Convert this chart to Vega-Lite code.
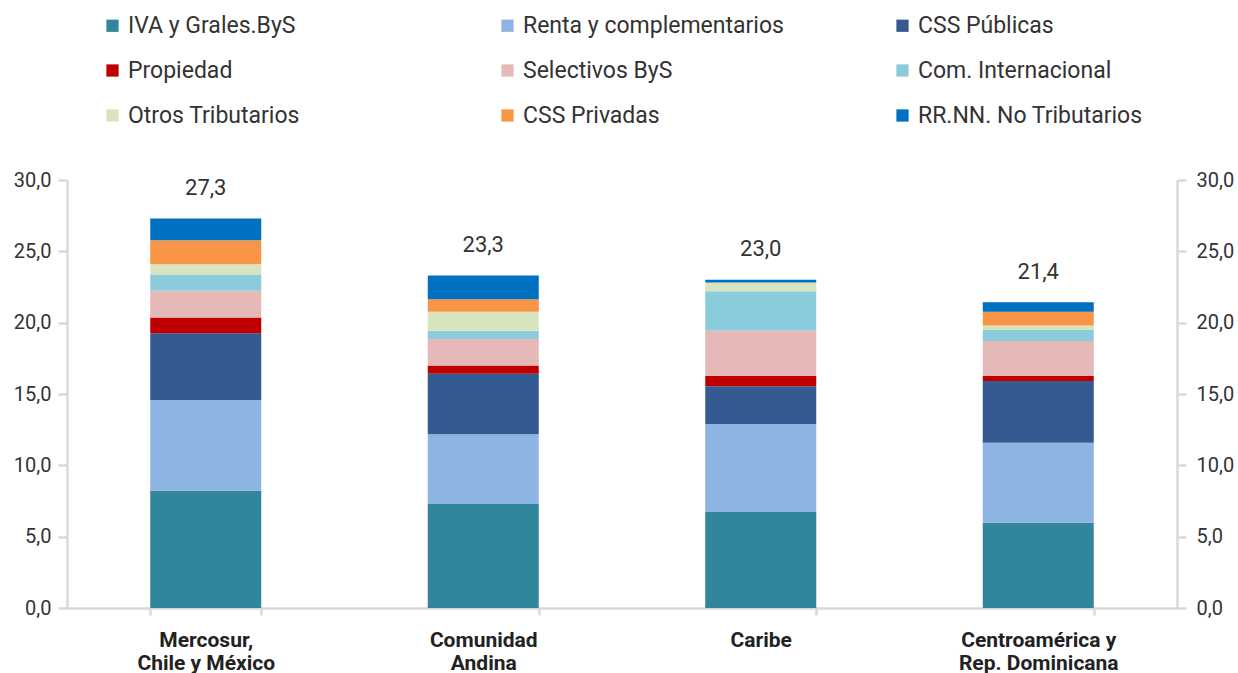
{
  "$schema": "https://vega.github.io/schema/vega-lite/v6.json",
  "width": 1110,
  "height": 428,
  "autosize": {"type": "none"},
  "padding": {"left": 67, "top": 180, "right": 61, "bottom": 65},
  "background": "white",
  "config": {
    "font": "Roboto",
    "view": {"stroke": null},
    "axis": {"grid": false, "domainColor": "#d9d9d9", "domainWidth": 2.5, "tickColor": "#d9d9d9", "tickWidth": 2.5, "labelColor": "#333333", "title": null}
  },
  "datasets": {
    "shares": [
      {"region": "Mercosur, Chile y México", "tipo": "IVA y Grales.ByS", "ord": 1, "value": 8.22},
      {"region": "Mercosur, Chile y México", "tipo": "Renta y complementarios", "ord": 2, "value": 6.36},
      {"region": "Mercosur, Chile y México", "tipo": "CSS Públicas", "ord": 3, "value": 4.67},
      {"region": "Mercosur, Chile y México", "tipo": "Propiedad", "ord": 4, "value": 1.12},
      {"region": "Mercosur, Chile y México", "tipo": "Selectivos ByS", "ord": 5, "value": 1.87},
      {"region": "Mercosur, Chile y México", "tipo": "Com. Internacional", "ord": 6, "value": 1.10},
      {"region": "Mercosur, Chile y México", "tipo": "Otros Tributarios", "ord": 7, "value": 0.76},
      {"region": "Mercosur, Chile y México", "tipo": "CSS Privadas", "ord": 8, "value": 1.68},
      {"region": "Mercosur, Chile y México", "tipo": "RR.NN. No Tributarios", "ord": 9, "value": 1.52},
      {"region": "Comunidad Andina", "tipo": "IVA y Grales.ByS", "ord": 1, "value": 7.29},
      {"region": "Comunidad Andina", "tipo": "Renta y complementarios", "ord": 2, "value": 4.88},
      {"region": "Comunidad Andina", "tipo": "CSS Públicas", "ord": 3, "value": 4.25},
      {"region": "Comunidad Andina", "tipo": "Propiedad", "ord": 4, "value": 0.58},
      {"region": "Comunidad Andina", "tipo": "Selectivos ByS", "ord": 5, "value": 1.85},
      {"region": "Comunidad Andina", "tipo": "Com. Internacional", "ord": 6, "value": 0.58},
      {"region": "Comunidad Andina", "tipo": "Otros Tributarios", "ord": 7, "value": 1.34},
      {"region": "Comunidad Andina", "tipo": "CSS Privadas", "ord": 8, "value": 0.88},
      {"region": "Comunidad Andina", "tipo": "RR.NN. No Tributarios", "ord": 9, "value": 1.65},
      {"region": "Caribe", "tipo": "IVA y Grales.ByS", "ord": 1, "value": 6.73},
      {"region": "Caribe", "tipo": "Renta y complementarios", "ord": 2, "value": 6.16},
      {"region": "Caribe", "tipo": "CSS Públicas", "ord": 3, "value": 2.65},
      {"region": "Caribe", "tipo": "Propiedad", "ord": 4, "value": 0.72},
      {"region": "Caribe", "tipo": "Selectivos ByS", "ord": 5, "value": 3.17},
      {"region": "Caribe", "tipo": "Com. Internacional", "ord": 6, "value": 2.78},
      {"region": "Caribe", "tipo": "Otros Tributarios", "ord": 7, "value": 0.61},
      {"region": "Caribe", "tipo": "CSS Privadas", "ord": 8, "value": 0.0},
      {"region": "Caribe", "tipo": "RR.NN. No Tributarios", "ord": 9, "value": 0.18},
      {"region": "Centroamérica y Rep. Dominicana", "tipo": "IVA y Grales.ByS", "ord": 1, "value": 5.98},
      {"region": "Centroamérica y Rep. Dominicana", "tipo": "Renta y complementarios", "ord": 2, "value": 5.61},
      {"region": "Centroamérica y Rep. Dominicana", "tipo": "CSS Públicas", "ord": 3, "value": 4.32},
      {"region": "Centroamérica y Rep. Dominicana", "tipo": "Propiedad", "ord": 4, "value": 0.35},
      {"region": "Centroamérica y Rep. Dominicana", "tipo": "Selectivos ByS", "ord": 5, "value": 2.45},
      {"region": "Centroamérica y Rep. Dominicana", "tipo": "Com. Internacional", "ord": 6, "value": 0.77},
      {"region": "Centroamérica y Rep. Dominicana", "tipo": "Otros Tributarios", "ord": 7, "value": 0.33},
      {"region": "Centroamérica y Rep. Dominicana", "tipo": "CSS Privadas", "ord": 8, "value": 0.96},
      {"region": "Centroamérica y Rep. Dominicana", "tipo": "RR.NN. No Tributarios", "ord": 9, "value": 0.66}
    ],
    "totals": [
      {"region": "Mercosur, Chile y México", "total": 27.3, "label": "27,3"},
      {"region": "Comunidad Andina", "total": 23.3, "label": "23,3"},
      {"region": "Caribe", "total": 23.0, "label": "23,0"},
      {"region": "Centroamérica y Rep. Dominicana", "total": 21.4, "label": "21,4"}
    ]
  },
  "encoding": {
    "x": {
      "field": "region",
      "type": "nominal",
      "sort": ["Mercosur, Chile y México", "Comunidad Andina", "Caribe", "Centroamérica y Rep. Dominicana"],
      "scale": {"paddingInner": 0.6, "paddingOuter": 0.3},
      "axis": {
        "labelAngle": 0,
        "labelFontSize": 21,
        "labelFontWeight": "bold",
        "labelColor": "#222222",
        "labelLineHeight": 23,
        "labelPadding": 14,
        "tickBand": "extent",
        "tickSize": 7,
        "labelExpr": "datum.value == 'Mercosur, Chile y México' ? ['Mercosur,', 'Chile y México'] : datum.value == 'Comunidad Andina' ? ['Comunidad', 'Andina'] : datum.value == 'Centroamérica y Rep. Dominicana' ? ['Centroamérica y', 'Rep. Dominicana'] : datum.value"
      }
    }
  },
  "layer": [
    {
      "data": {"name": "shares"},
      "mark": {"type": "bar"},
      "encoding": {
        "y": {
          "field": "value",
          "type": "quantitative",
          "stack": "zero",
          "scale": {"domain": [0, 30], "nice": false},
          "axis": {"orient": "left", "values": [0, 5, 10, 15, 20, 25, 30], "labelFontSize": 20, "tickSize": 9, "labelPadding": 7, "labelExpr": "replace(format(datum.value, '.1f'), '.', ',')"}
        },
        "color": {
          "field": "tipo",
          "type": "nominal",
          "scale": {
            "domain": ["IVA y Grales.ByS", "Renta y complementarios", "CSS Públicas", "Propiedad", "Selectivos ByS", "Com. Internacional", "Otros Tributarios", "CSS Privadas", "RR.NN. No Tributarios"],
            "range": ["#31869b", "#8eb4e3", "#345a91", "#c00000", "#e6b9b8", "#8acbdc", "#d7e4bd", "#f79646", "#0070c0"]
          },
          "legend": {
            "title": null,
            "orient": "none",
            "legendX": 34,
            "legendY": -166,
            "direction": "horizontal",
            "columns": 3,
            "gridAlign": "all",
            "columnPadding": 107,
            "rowPadding": 21,
            "symbolType": "square",
            "symbolSize": 150,
            "symbolStrokeWidth": 0,
            "labelFontSize": 23,
            "labelColor": "#333333",
            "labelLimit": 400,
            "labelOffset": 4
          }
        },
        "order": {"field": "ord", "type": "quantitative"}
      }
    },
    {
      "data": {"name": "totals"},
      "mark": {"type": "text", "fontSize": 22, "color": "#333333", "baseline": "middle", "dy": -31},
      "encoding": {
        "y": {
          "field": "total",
          "type": "quantitative",
          "scale": {"domain": [0, 30], "nice": false},
          "axis": {"orient": "right", "values": [0, 5, 10, 15, 20, 25, 30], "labelFontSize": 20, "tickSize": 9, "labelPadding": 10, "labelExpr": "replace(format(datum.value, '.1f'), '.', ',')"}
        },
        "text": {"field": "label"}
      }
    }
  ],
  "resolve": {"axis": {"y": "independent"}}
}
